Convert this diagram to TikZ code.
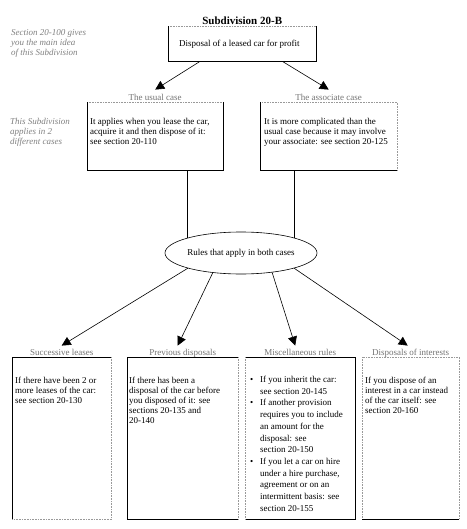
\documentclass[tikz,border=0pt]{standalone}
\usepackage{fontspec}
\setmainfont{Liberation Serif}
\usetikzlibrary{positioning, arrows.meta, shapes.geometric}

\begin{document}
\begin{tikzpicture}[x=1pt, y=-1pt,
        every node/.style={font=\fontsize{9}{10}\selectfont, inner sep=0pt},
        boxframe/.style={anchor=north west},
        solidside/.style={black, line width=0.6pt},
        dotside/.style={black!40, line width=0.6pt, densely dotted},
        boxtext/.style={anchor=north west, align=left},
        listtext/.style={boxtext, font=\fontsize{9}{11.7}\selectfont},
        labtext/.style={black!55, text height=7pt, text depth=1pt},
        notetext/.style={anchor=north west, align=left, black!50, font=\fontsize{9}{10}\selectfont\itshape},
        titletext/.style={font=\fontsize{11}{12}\selectfont\bfseries, inner sep=1pt},
        arrow/.style={-{Triangle[length=9pt, width=9pt]}, line width=0.6pt},
        rulesshape/.style={ellipse, draw, line width=0.6pt, minimum width=152pt, minimum height=42pt}
    ]
    \useasboundingbox (0,0) rectangle (466,529);

    % subdivision heading
    \node[boxframe, minimum width=148pt, minimum height=35pt] (topbox) at (168,26) {};
    \node[titletext, above=0pt of topbox] (title) {Subdivision 20-B};
    \node[boxtext] (toptxt) at (179,40) {Disposal of a leased car for profit};
    \draw[dotside] (topbox.north west) -- (topbox.north east);
    \draw[solidside] (topbox.north east) -- (topbox.south east) -- (topbox.south west) -- (topbox.north west);
    \node[notetext] (mainidea) at (11,29) {Section 20-100 gives\\you the main idea\\of this Subdivision};

    % the two cases
    \node[boxframe, minimum width=136pt, minimum height=68pt] (usual) at (87,102) {};
    \node[labtext, above=0pt of usual] (usuallab) {The usual case};
    \node[boxtext] (usualtxt) at (90,118) {It applies when you lease the car,\\acquire it and then dispose of it:\\see section 20-110};
    \draw[dotside] (usual.north west) -- (usual.north east);
    \draw[solidside] (usual.north east) -- (usual.south east) -- (usual.south west) -- (usual.north west);

    \node[boxframe, minimum width=137pt, minimum height=68pt] (assoc) at (260,102) {};
    \node[labtext, above=0pt of assoc] (assoclab) {The associate case};
    \node[boxtext] (assoctxt) at (264,118) {It is more complicated than the\\usual case because it may involve\\your associate: see section 20-125};
    \draw[dotside] (assoc.south east) -- (assoc.north east) -- (assoc.north west);
    \draw[solidside] (assoc.north west) -- (assoc.south west) -- (assoc.south east);

    \node[notetext] (twocases) at (10,118) {This Subdivision\\applies in 2\\different cases};

    \draw[arrow] ([xshift=32pt]topbox.south west) -- ([yshift=4pt]usuallab.north);
    \draw[arrow] ([xshift=-34pt]topbox.south east) -- ([yshift=4pt]assoclab.north);

    % rules for both cases
    \node[rulesshape] (rules) at (241,253) {\raisebox{-3pt}{Rules that apply in both cases}};
    \draw[solidside] (rules.164 |- usual.south) -- (rules.164);
    \draw[solidside] (rules.16 |- assoc.south) -- (rules.16);

    % the four kinds of rules
    \node[boxframe, minimum width=99pt, minimum height=162pt] (succ) at (12,357) {};
    \node[labtext, above=0pt of succ] (succlab) {Successive leases};
    \node[boxtext] (succtxt) at (15,377) {If there have been 2 or\\more leases of the car:\\see section 20-130};
    \draw[solidside] (succ.south west) -- (succ.north west) -- (succ.north east);
    \draw[dotside] (succ.north east) -- (succ.south east) -- (succ.south west);

    \node[boxframe, minimum width=111pt, minimum height=162pt] (prev) at (127,357) {};
    \node[labtext, above=0pt of prev] (prevlab) {Previous disposals};
    \node[boxtext] (prevtxt) at (129,377) {If there has been a\\disposal of the car before\\you disposed of it: see\\sections 20-135 and\\20-140};
    \draw[solidside] (prev.north east) -- (prev.north west) -- (prev.south west) -- (prev.south east);
    \draw[dotside] (prev.south east) -- (prev.north east);

    \node[boxframe, minimum width=110pt, minimum height=162pt] (misc) at (245,357) {};
    \node[labtext, above=0pt of misc] (misclab) {Miscellaneous rules};
    \node[listtext] (misctxt) at (250,376) {%
        \makebox[10pt][l]{\textbullet}If you inherit the car:\\
        \hspace*{10pt}see section 20-145\\
        \makebox[10pt][l]{\textbullet}If another provision\\
        \hspace*{10pt}requires you to include\\
        \hspace*{10pt}an amount for the\\
        \hspace*{10pt}disposal: see\\
        \hspace*{10pt}section 20-150\\
        \makebox[10pt][l]{\textbullet}If you let a car on hire\\
        \hspace*{10pt}under a hire purchase,\\
        \hspace*{10pt}agreement or on an\\
        \hspace*{10pt}intermittent basis: see\\
        \hspace*{10pt}section 20-155};
    \draw[solidside] (misc.north west) -- (misc.north east) -- (misc.south east) -- (misc.south west);
    \draw[dotside] (misc.south west) -- (misc.north west);

    \node[boxframe, minimum width=97pt, minimum height=162pt] (intr) at (362,357) {};
    \node[labtext, above=0pt of intr] (intrlab) {Disposals of interests};
    \node[boxtext] (intrtxt) at (365,377) {If you dispose of an\\interest in a car instead\\of the car itself: see\\section 20-160};
    \draw[dotside] (intr.south west) -- (intr.north west) -- (intr.north east) -- (intr.south east);
    \draw[solidside] (intr.south east) -- (intr.south west);

    \draw[arrow] (rules.196) -- ([yshift=3pt]succlab.north);
    \draw[arrow] (rules.215) -- ([xshift=-5pt, yshift=3pt]prevlab.north);
    \draw[arrow] (rules.328) -- ([xshift=-5pt, yshift=3pt]misclab.north);
    \draw[arrow] (rules.344) -- ([xshift=-3pt, yshift=3pt]intrlab.north);
\end{tikzpicture}
\end{document}
